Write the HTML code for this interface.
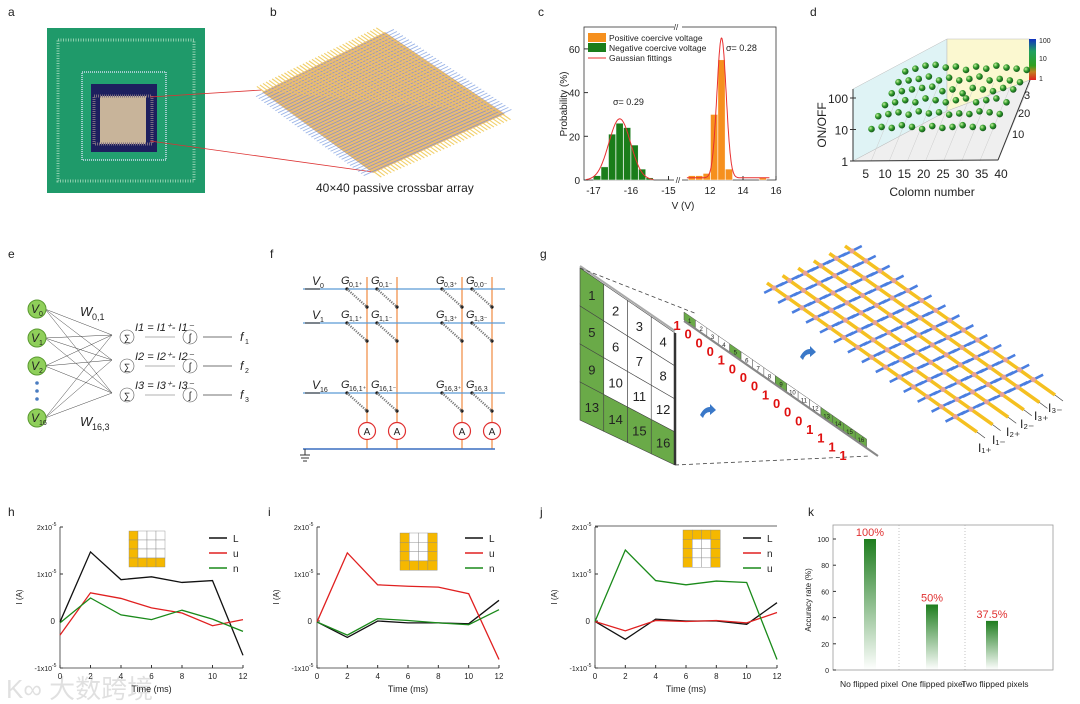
<!DOCTYPE html>
<html><head><meta charset="utf-8"><style>
html,body{margin:0;padding:0;background:#fff}
svg{display:block;font-family:"Liberation Sans","Noto Sans CJK SC",sans-serif}
</style></head><body>
<svg id="fig" width="1080" height="704" viewBox="0 0 1080 704" xmlns="http://www.w3.org/2000/svg">
<g font-size="12" fill="#222">
<text x="8" y="16">a</text>
<text x="270" y="16">b</text>
<text x="538" y="16">c</text>
<text x="810" y="16">d</text>
<text x="8" y="258">e</text>
<text x="270" y="258">f</text>
<text x="540" y="258">g</text>
<text x="8" y="516">h</text>
<text x="268" y="516">i</text>
<text x="540" y="516">j</text>
<text x="808" y="516">k</text>
</g>
<g>
<rect x="47" y="28" width="158" height="165" fill="#1f9a6a"/>
<rect x="58" y="40" width="136" height="141" fill="none" stroke="#8fcfae" stroke-width="3" stroke-dasharray="1 1.5"/>
<rect x="82" y="72" width="84" height="88" fill="#22a070" stroke="#cde" stroke-width="1.5" stroke-dasharray="1 1"/>
<rect x="91" y="84" width="66" height="68" fill="#1d1f5e"/>
<rect x="100" y="96" width="46" height="48" fill="#c8b49a"/>
<rect x="94" y="96" width="58" height="48" fill="none" stroke="#7a6c80" stroke-width="3" stroke-dasharray="1 1"/>
</g>
<line x1="150" y1="97" x2="262" y2="90" stroke="#d33" stroke-width="0.8"/>
<line x1="150" y1="141" x2="373" y2="172" stroke="#d33" stroke-width="0.8"/>
<g id="pb"></g>
<text x="316" y="192" font-size="12" fill="#222">40×40 passive crossbar array</text>
<g id="pc"></g>
<g id="pd"></g>
<g id="pe"></g>
<g id="pf"></g>
<g id="pg"></g>
<g id="ph"></g>
<g id="pi"></g>
<g id="pj"></g>
<g id="pk"></g>
<text x="6" y="698" font-size="26" fill="#000" fill-opacity="0.12">K∞ 大数跨境</text>
</svg>
<script>
// ---- data ----
const histGreenV=[-16.9,-16.7,-16.5,-16.3,-16.1,-15.9,-15.7,-15.5];
const histGreenP=[2,6,21,26,24,16,5,1];
const histOrangeV=[10.9,11.35,11.8,12.25,12.7,13.15,15.2];
const histOrangeP=[2,2,3,30,55,5,1];
const fitMeans=[-16.3,12.7];
const fitSigmas=[0.29,0.28];
const fitPeaks=[28,64];
const probTicks=[0,20,40,60];
const vTicksLeft=[-17,-16,-15];
const vTicksRight=[12,14,16];
const dRows=[36,30,24,18,12,6];
const dCols=[2,5,8,11,14,17,20,23,26,29,32,35,38];
const dVals=[
[30,40,55,60,45,50,35,50,40,55,45,40,35],
[25,30,35,45,30,40,30,35,45,30,35,30,25],
[20,25,30,35,40,25,30,20,35,30,25,35,30],
[15,20,25,20,30,25,20,25,30,20,25,30,20],
[12,15,18,14,20,16,18,14,16,15,20,18,15],
[8,10,9,12,10,8,11,9,10,12,10,9,11]];
const timeMs=[0,2,4,6,8,10,12];
const hL=[-0.02,1.47,0.88,0.94,0.82,0.86,-0.73];
const hU=[-0.3,0.6,0.48,0.28,0.17,-0.1,0.03];
const hN=[-0.04,0.49,0.13,0.03,0.23,0.04,-0.22];
const iL=[-0.02,-0.35,0,-0.04,-0.04,-0.06,0.44];
const iU=[-0.02,1.45,0.77,0.74,0.72,0.58,-0.82];
const iN=[-0.02,-0.3,0.05,0.01,-0.04,-0.08,0.24];
const jL=[-0.01,-0.39,0.04,0,0,-0.07,0.39];
const jN=[-0.01,-0.21,0.01,-0.01,0.01,-0.04,0.18];
const jU=[-0.01,1.51,0.86,0.77,0.85,0.82,-0.82];
const currentTicks=[-1,0,1,2];
const accCats=["No flipped pixel","One flipped pixel","Two flipped pixels"];
const accVals=[100,50,37.5];
const accLabels=["100%","50%","37.5%"];
const accTicks=[0,20,40,60,80,100];

const NS="http://www.w3.org/2000/svg";
function mk(tag,a,p){const e=document.createElementNS(NS,tag);for(const k in a)e.setAttribute(k,a[k]);p.appendChild(e);return e;}
function tx(p,x,y,s,fs,anchor,fill){const t=mk('text',{x:x,y:y,'font-size':fs||10,'text-anchor':anchor||'start',fill:fill||'#222'},p);t.textContent=s;return t;}
const svg=document.getElementById('fig');
const defs=mk('defs',{},svg);
const gr=mk('linearGradient',{id:'gbar',x1:0,y1:0,x2:0,y2:1},defs);
mk('stop',{offset:'0','stop-color':'#1e7d1e'},gr);mk('stop',{offset:'1','stop-color':'#1e7d1e','stop-opacity':'0'},gr);
const rg=mk('radialGradient',{id:'ball',cx:'0.35',cy:'0.35',r:'0.7'},defs);
mk('stop',{offset:'0','stop-color':'#c8f0a0'},rg);mk('stop',{offset:'0.5','stop-color':'#2f9a2a'},rg);mk('stop',{offset:'1','stop-color':'#12501a'},rg);

// ---- panel b ----
(function(){
const g=document.getElementById('pb');
const L=[262,92],T=[385,32],R=[505,114],B=[373,173];
const poly=mk('polygon',{points:[L,T,R,B].map(p=>p.join(',')).join(' '),fill:'#e6b48c'},g);


const n=40;
for(let k=0;k<n;k++){const t=(k+0.5)/n;
 const a=[L[0]+(T[0]-L[0])*t,L[1]+(T[1]-L[1])*t],b=[B[0]+(R[0]-B[0])*t,B[1]+(R[1]-B[1])*t];
 const dx=(b[0]-a[0])*0.06,dy=(b[1]-a[1])*0.06;
 mk('line',{x1:a[0]-dx,y1:a[1]-dy,x2:b[0]+dx,y2:b[1]+dy,stroke:'#f0c850','stroke-width':1.1,'stroke-opacity':0.85},g);
 const c=[L[0]+(B[0]-L[0])*t,L[1]+(B[1]-L[1])*t],d=[T[0]+(R[0]-T[0])*t,T[1]+(R[1]-T[1])*t];
 const ex=(d[0]-c[0])*0.06,ey=(d[1]-c[1])*0.06;
 mk('line',{x1:c[0]-ex,y1:c[1]-ey,x2:d[0]+ex,y2:d[1]+ey,stroke:'#5b86d8','stroke-width':0.9,'stroke-opacity':0.6},g);
}
})();

// ---- panel c ----
(function(){
const g=document.getElementById('pc');
const xl=v=>631+(v+16)*37.5, xr=v=>710+(v-12)*16.5, y=p=>180-p*2.185;
mk('rect',{x:584,y:27,width:192,height:153,fill:'none',stroke:'#333','stroke-width':0.8},g);
mk('rect',{x:674,y:24,width:8,height:160,fill:'#fff'},g);
tx(g,676,30,'//',8,'middle');tx(g,678,183,'//',8,'middle');
probTicks.forEach(p=>{mk('line',{x1:584,y1:y(p),x2:588,y2:y(p),stroke:'#333'},g);tx(g,580,y(p)+4,String(p),10,'end');});
vTicksLeft.forEach(v=>{mk('line',{x1:xl(v),y1:180,x2:xl(v),y2:176,stroke:'#333'},g);tx(g,xl(v),194,String(v),10,'middle');});
vTicksRight.forEach(v=>{mk('line',{x1:xr(v),y1:180,x2:xr(v),y2:176,stroke:'#333'},g);tx(g,xr(v),194,String(v),10,'middle');});
histGreenV.forEach((v,i)=>{const b=mk('rect',{x:xl(v-0.1),y:y(histGreenP[i]),width:7.2,height:180-y(histGreenP[i]),fill:'#1a7d1a',stroke:'#fff','stroke-width':0.5},g);
});
histOrangeV.forEach((v,i)=>{const b=mk('rect',{x:xr(v-0.22),y:y(histOrangeP[i]),width:7.2,height:180-y(histOrangeP[i]),fill:'#f6901e',stroke:'#fff','stroke-width':0.5},g);
});
[xl,xr].forEach((fx,k)=>{let d='';const m=fitMeans[k],s=fitSigmas[k],A=fitPeaks[k];const lo=k?10.6:-17.2,hi=k?15.6:-15.4;
 for(let v=lo;v<=hi;v+=0.02){const p=A*Math.exp(-((v-m)**2)/(2*s*s))+(k?1:0);d+=(d?'L':'M')+fx(v).toFixed(1)+','+y(p).toFixed(1);}
 const pl=mk('path',{d:d,fill:'none',stroke:'#e83030','stroke-width':1},g);});
tx(g,613,105,'σ= 0.29',9);tx(g,726,51,'σ= 0.28',9);
const lg=[['#f6901e','Positive coercive voltage'],['#1a7d1a','Negative coercive voltage']];
lg.forEach((e,i)=>{mk('rect',{x:588,y:33+i*10,width:18,height:9,fill:e[0]},g);tx(g,609,41+i*10,e[1],8.5);});
mk('line',{x1:588,y1:58,x2:606,y2:58,stroke:'#e83030'},g);tx(g,609,61,'Gaussian fittings',8.5);
const yl=tx(g,0,0,'Probability (%)',10,'middle');yl.setAttribute('transform','translate(567,104) rotate(-90)');

tx(g,683,209,'V (V)',10,'middle');
})();

// ---- panel d ----
(function(){
const g=document.getElementById('pd');
mk('polygon',{points:'853,161 853,89 947,39 947,111',fill:'#dff3f5',stroke:'#bbb','stroke-width':0.5},g);
mk('polygon',{points:'947,39 1030,39 1030,80 947,111',fill:'#fbf8d0',stroke:'#bbb','stroke-width':0.5},g);
mk('polygon',{points:'853,161 998,160 1030,80 947,111',fill:'#efefef',stroke:'#bbb','stroke-width':0.5},g);
for(let c=5;c<=40;c+=5){const xf=853+(c/40)*145;mk('line',{x1:xf,y1:161,x2:xf+32,y2:83,stroke:'#ccc','stroke-width':0.5},g);}
mk('line',{x1:853,y1:161,x2:998,y2:160,stroke:'#333'},g);mk('line',{x1:853,y1:161,x2:853,y2:89,stroke:'#333'},g);
mk('line',{x1:998,y1:160,x2:1030,y2:80,stroke:'#333'},g);
const py=v=>Math.log10(v)*31.5;
[[1,'1'],[10,'10'],[100,'100']].forEach(t=>{const yy=161-py(t[0]);mk('line',{x1:850,y1:yy,x2:856,y2:yy,stroke:'#333'},g);tx(g,848,yy+5,t[1],12,'end');});
for(let c=5;c<=40;c+=5){const xx=853+(c-2.5)/37.5*145+3;tx(g,xx,178,String(c),12,'middle');}
tx(g,932,196,'Colomn number',12,'middle');
const yl=tx(g,0,0,'ON/OFF',12,'middle');yl.setAttribute('transform','translate(826,125) rotate(-90)');
tx(g,1024,99,'3',11);tx(g,1018,117,'20',11);tx(g,1012,138,'10',11);
const cb=mk('linearGradient',{id:'cbar',x1:0,y1:0,x2:0,y2:1},defs);
[['0','#1030c0'],['0.3','#20a060'],['0.65','#30a020'],['0.8','#c08020'],['1','#e02020']].forEach(s=>mk('stop',{offset:s[0],'stop-color':s[1]},cb));
mk('rect',{x:1029,y:39,width:7,height:41,fill:'url(#cbar)'},g);
tx(g,1039,43,'100',7);tx(g,1039,61,'10',7);tx(g,1039,81,'1',7);
dRows.forEach((r,ri)=>{dCols.forEach((c,ci)=>{const v=dVals[ri][ci];
 const x=858+(c/40)*135+(r/40)*45, base=158-(r/40)*60;
 const s=mk('circle',{cx:x,cy:base-py(v)*0.7,r:3.3,fill:'url(#ball)'},g);
 });});
})();

// ---- panel e ----
(function(){
const g=document.getElementById('pe');
const vy=[309,338,366,418],vl=['0','1','2','16'];
const jy=[335,360,393];
vy.forEach(a=>jy.forEach(b=>mk('line',{x1:45,y1:a,x2:112,y2:b,stroke:'#444','stroke-width':0.5},g)));
vy.forEach((yy,i)=>{const c=mk('circle',{cx:37,cy:yy,r:9,fill:'#8fcf5a',stroke:'#5a9a30'},g);
 const t=tx(g,31,yy+4,'V',12);t.setAttribute('font-style','italic');tx(g,39,yy+7,vl[i],7);});
[383,391,399].forEach(yy=>mk('circle',{cx:37,cy:yy,r:1.8,fill:'#4a7cc0'},g));
const w1=tx(g,80,316,'W',13);w1.setAttribute('font-style','italic');tx(g,92,320,'0,1',9);
const w2=tx(g,80,426,'W',13);w2.setAttribute('font-style','italic');tx(g,92,430,'16,3',9);
[337,366,395].forEach((yy,i)=>{mk('circle',{cx:127,cy:yy,r:7,fill:'#fff',stroke:'#555','stroke-width':0.6},g);tx(g,127,yy+4,'∑',9,'middle');
 mk('circle',{cx:190,cy:yy,r:7,fill:'#fff',stroke:'#555','stroke-width':0.6},g);tx(g,190,yy+4,'ʃ',10,'middle');
 mk('line',{x1:145,y1:yy,x2:175,y2:yy,stroke:'#666','stroke-width':0.6},g);mk('line',{x1:203,y1:yy,x2:232,y2:yy,stroke:'#444','stroke-width':0.8},g);
 const f=tx(g,240,yy+4,'f',12);f.setAttribute('font-style','italic');tx(g,245,yy+7,String(i+1),7);
 const e=tx(g,135,yy-6,'I'+(i+1)+' = I'+(i+1)+'⁺- I'+(i+1)+'⁻',11);e.setAttribute('font-style','italic');});
})();

// ---- panel f ----
(function(){
const g=document.getElementById('pf');
const rows=[289,323,393],cols=[367,397,462,492],rl=['0','1','16'];
const gl=[['0,1⁺','0,1⁻','0,3⁺','0,0⁻'],['1,1⁺','1,1⁻','1,3⁺','1,3⁻'],['16,1⁺','16,1⁻','16,3⁺','16,3']];
cols.forEach(x=>{const l=mk('line',{x1:x,y1:277,x2:x,y2:449,stroke:'#f08a40','stroke-width':1.2},g);});
rows.forEach((y,ri)=>{const l=mk('line',{x1:303,y1:y,x2:505,y2:y,stroke:'#5b9bd5','stroke-width':1.3},g);
 mk('line',{x1:305,y1:y,x2:320,y2:y,stroke:'#222'},g);
 const v=tx(g,312,y-4,'V',12);v.setAttribute('font-style','italic');tx(g,320,y-1,rl[ri],7);
 cols.forEach((x,ci)=>{const sx=x-20;mk('circle',{cx:sx,cy:y,r:1.6,fill:'#111'},g);mk('circle',{cx:x,cy:y+18,r:1.6,fill:'#111'},g);
  mk('path',{d:`M${sx},${y} L${x},${y+18}`,stroke:'#777','stroke-width':2.2,'stroke-dasharray':'1.2 1.2',fill:'none'},g);
  const t=tx(g,x-26,y-5,'G',11);t.setAttribute('font-style','italic');tx(g,x-18,y-2,gl[ri][ci],7);});});
mk('line',{x1:303,y1:449,x2:495,y2:449,stroke:'#3a6fc0','stroke-width':1.5},g);
cols.forEach(x=>{const c=mk('circle',{cx:x,cy:431,r:8.5,fill:'#fff',stroke:'#e03030','stroke-width':1.2},g);tx(g,x,435,'A',10,'middle');});
mk('line',{x1:305,y1:449,x2:305,y2:455,stroke:'#333'},g);
[[300,310,455],[301,309,458],[303,307,461]].forEach(a=>mk('line',{x1:a[0],y1:a[2],x2:a[1],y2:a[2],stroke:'#333'},g));
})();

// ---- panel g ----
(function(){
const g=document.getElementById('pg');
const TL=[580,268],TR=[675,333],BR=[675,465],BL=[580,420];
const P=(u,v)=>{const tx_=TL[0]+(TR[0]-TL[0])*u,ty=TL[1]+(TR[1]-TL[1])*u,bx=BL[0]+(BR[0]-BL[0])*u,by=BL[1]+(BR[1]-BL[1])*u;return[tx_+(bx-tx_)*v,ty+(by-ty)*v];};
const green=[1,5,9,13,14,15,16];
for(let r=0;r<4;r++)for(let c=0;c<4;c++){const n=r*4+c+1;const pts=[P(c/4,r/4),P((c+1)/4,r/4),P((c+1)/4,(r+1)/4),P(c/4,(r+1)/4)];
 const cell=mk('polygon',{points:pts.map(p=>p.join(',')).join(' '),fill:green.includes(n)?'#6aaa48':'#fff',stroke:'#444','stroke-width':0.6},g);
 
 const ct=P((c+0.5)/4,(r+0.5)/4);tx(g,ct[0],ct[1]+5,String(n),13,'middle');}
mk('line',{x1:675,y1:333,x2:675,y2:465,stroke:'#333','stroke-width':2.5},g);
mk('line',{x1:580,y1:266,x2:675,y2:331,stroke:'#aaa','stroke-width':2},g);
mk('line',{x1:580,y1:268,x2:697,y2:314,stroke:'#444','stroke-dasharray':'4 3','stroke-width':0.8},g);
mk('line',{x1:675,y1:465,x2:870,y2:456,stroke:'#444','stroke-dasharray':'4 3','stroke-width':0.8},g);
const s0=[684,320],s1=[878,455];
for(let k=0;k<16;k++){const a=[s0[0]+(s1[0]-s0[0])*k/17,s0[1]+(s1[1]-s0[1])*k/17],b=[s0[0]+(s1[0]-s0[0])*(k+1)/17,s0[1]+(s1[1]-s0[1])*(k+1)/17];
 const c=mk('polygon',{points:`${a[0]},${a[1]-8} ${b[0]},${b[1]-8} ${b[0]},${b[1]} ${a[0]},${a[1]}`,fill:green.includes(k+1)?'#6aaa48':'#fff',stroke:'#555','stroke-width':0.5},g);
 
 tx(g,(a[0]+b[0])/2,(a[1]+b[1])/2-1,String(k+1),6,'middle');}
mk('line',{x1:s0[0],y1:s0[1]+1,x2:s1[0],y2:s1[1]+1,stroke:'#888','stroke-width':2},g);
const bits='1000100010001111';
for(let k=0;k<16;k++){const t=tx(g,677+(843-677)*k/15,330+(460-330)*k/15,bits[k],13,'middle','#e01010');t.setAttribute('font-weight','bold');}
[[708,410],[808,352]].forEach(p=>mk('path',{d:`M${p[0]-8},${p[1]+5} q4,-8 10,-8 l0,-3 l6,6 l-6,5 l0,-3 q-5,0 -7,6z`,fill:'#3a78c8'},g));
// crossbar: 6 yellow lines, 14 blue crossing stubs each
const ydir=[210,149], bdir=[0.89,-0.45];
for(let i=0;i<6;i++){const x0=767+i*15.6,y0=283-i*7.4;
 for(let j=0;j<14;j++){const t=(j+0.5)/14;const cx=x0+ydir[0]*t*0.93,cy=y0+ydir[1]*t*0.93;
  const b=mk('line',{x1:cx-bdir[0]*11,y1:cy-bdir[1]*11,x2:cx+bdir[0]*11,y2:cy+bdir[1]*11,stroke:'#4a7ee0','stroke-width':2.6},g);
  }
 const l=mk('line',{x1:x0,y1:y0,x2:x0+ydir[0],y2:y0+ydir[1],stroke:'#f5c020','stroke-width':3.5},g);
 for(let j=0;j<14;j++){const t=(j+0.5)/14;mk('circle',{cx:x0+ydir[0]*t*0.93,cy:y0+ydir[1]*t*0.93,r:2.6,fill:'#e8a0a0','fill-opacity':0.9},g);}
 mk('line',{x1:x0+ydir[0],y1:y0+ydir[1],x2:x0+ydir[0]+8,y2:y0+ydir[1]+6,stroke:'#333','stroke-width':0.6},g);}
const lab=['I₁₊','I₁₋','I₂₊','I₂₋','I₃₊','I₃₋'];
lab.forEach((s,k)=>tx(g,978+k*14,452-k*8,s,12));
})();

// ---- line charts h,i,j ----
function lineChart(id,x0,x1,series,colors,names,pattern,ins){
 const g=document.getElementById(id);const yT=527,yB=668;
 const X=t=>x0+(t/12)*(x1-x0), Y=v=>621-v*47;
 mk('line',{x1:x0,y1:yT,x2:x0,y2:yB,stroke:'#333','stroke-width':0.8},g);mk('line',{x1:x0,y1:yB,x2:x1,y2:yB,stroke:'#333','stroke-width':0.8},g);
 currentTicks.forEach(v=>{mk('line',{x1:x0,y1:Y(v),x2:x0+3,y2:Y(v),stroke:'#333'},g);
  if(v===0)tx(g,x0-5,Y(v)+3,'0',8,'end');else{tx(g,x0-8,Y(v)+3,(v<0?'-1':String(v))+'x10',7,'end');tx(g,x0-8,Y(v)-1,'-5',5);}});
 timeMs.forEach(t=>{mk('line',{x1:X(t),y1:yB,x2:X(t),y2:yB-3,stroke:'#333'},g);tx(g,X(t),yB+11,String(t),8,'middle');});
 tx(g,(x0+x1)/2,692,'Time (ms)',9,'middle');
 const yl=tx(g,0,0,'I (A)',8,'middle');yl.setAttribute('transform',`translate(${x0-38},597) rotate(-90)`);
 series.forEach((s,k)=>{const p=mk('polyline',{points:s.map((v,i)=>X(timeMs[i])+','+Y(v)).join(' '),fill:'none',stroke:colors[k],'stroke-width':1.3},g);
  
  const lx=x1-34,ly=538+k*15;mk('line',{x1:lx,y1:ly,x2:lx+18,y2:ly,stroke:colors[k],'stroke-width':1.5},g);tx(g,lx+24,ly+4,names[k],10);});
 for(let r=0;r<4;r++)for(let c=0;c<4;c++){mk('rect',{x:ins[0]+c*ins[2],y:ins[1]+r*ins[2],width:ins[2],height:ins[2],fill:pattern[r][c]?'#f5b800':'#fff',stroke:'#888','stroke-width':0.4},g);}
}
const Lp=[[1,0,0,0],[1,0,0,0],[1,0,0,0],[1,1,1,1]],Up=[[1,0,0,1],[1,0,0,1],[1,0,0,1],[1,1,1,1]],Np=[[1,1,1,1],[1,0,0,1],[1,0,0,1],[1,0,0,1]];
lineChart('ph',60,243,[hL,hU,hN],['#111','#e02020','#1a8a1a'],['L','u','n'],Lp,[129,531,9]);
lineChart('pi',317,499,[iL,iU,iN],['#111','#e02020','#1a8a1a'],['L','u','n'],Up,[400,533,9.3]);
lineChart('pj',595,777,[jL,jN,jU],['#111','#e02020','#1a8a1a'],['L','n','u'],Np,[683,530,9.3]);
mk('line',{x1:595,y1:526,x2:777,y2:526,stroke:'#333','stroke-width':0.8},document.getElementById('pj'));

// ---- panel k ----
(function(){
const g=document.getElementById('pk');
const x0=833,x1=1053,yB=670,Y=v=>yB-v*1.31;
mk('rect',{x:x0,y:525,width:x1-x0,height:yB-525,fill:'none',stroke:'#999','stroke-width':0.8},g);
[899,965].forEach(x=>mk('line',{x1:x,y1:525,x2:x,y2:yB,stroke:'#aaa','stroke-dasharray':'1 2','stroke-width':0.7},g));
accTicks.forEach(v=>{mk('line',{x1:x0,y1:Y(v),x2:x0+3,y2:Y(v),stroke:'#333'},g);tx(g,x0-4,Y(v)+3,String(v),7,'end');});
const cx=[870,932,992];
accVals.forEach((v,i)=>{const b=mk('rect',{x:cx[i]-6,y:Y(v),width:12,height:yB-Y(v),fill:'url(#gbar)'},g);
 
 tx(g,cx[i],Y(v)-3,accLabels[i],11,'middle','#e03030');
 tx(g,cx[i]-1+i*2,687,accCats[i],8.5,'middle');});
const yl=tx(g,0,0,'Accuracy rate (%)',8,'middle');yl.setAttribute('transform','translate(811,600) rotate(-90)');
})();
</script>
</body></html>
